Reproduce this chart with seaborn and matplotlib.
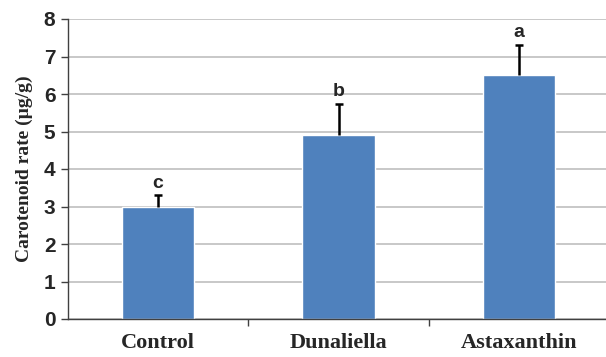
import matplotlib
matplotlib.use("Agg")
import matplotlib.pyplot as plt
import seaborn as sns
import pandas as pd

# data
groups = ["Control", "Dunaliella", "Astaxanthin"]
carotenoid = [3.0, 4.92, 6.5]
err_up = [0.3, 0.82, 0.82]
letters = ["c", "b", "a"]

df = pd.DataFrame({"group": groups, "value": carotenoid})

sns.set_style("white")
fig = plt.figure(figsize=(6.06, 3.57), dpi=100)
ax = fig.add_axes([68 / 606, 38 / 357, 1 - 68 / 606, 300 / 357])

sns.barplot(data=df, x="group", y="value", color="#4F81BD", saturation=1,
            width=0.4, errorbar=None, ax=ax, zorder=2)
eb = ax.errorbar(range(len(groups)), carotenoid, yerr=[[0] * 3, err_up], fmt="none",
                 ecolor="black", elinewidth=1.8, capsize=3, capthick=1.8, zorder=3)
# only the upper half of the error bar is shown
eb[1][0].set_visible(False)

for i, (v, e, t) in enumerate(zip(carotenoid, err_up, letters)):
    ax.text(i, v + e + 0.1, t, ha="center", va="bottom", fontsize=14,
            fontweight="bold", family="Liberation Sans")

ax.set_ylim(0, 8)
ax.set_xlim(-0.5, 2.5 - 3 / 180)
ax.set_yticks(range(0, 9))
ax.yaxis.grid(True, color="#BFBFBF", linewidth=1.2, zorder=0)
ax.set_axisbelow(True)
sns.despine(ax=ax)
for s in ["left", "bottom"]:
    ax.spines[s].set_color("#404040")
    ax.spines[s].set_linewidth(1.0)

ax.tick_params(axis="y", direction="out", length=5, width=1, color="#404040",
               left=True, pad=4)
for lab in ax.get_yticklabels():
    lab.set_fontsize(15)
    lab.set_fontweight("bold")
    lab.set_family("Liberation Sans")

# category boundaries as minor ticks, like the spreadsheet style axis
ax.set_xticks([0.5, 1.5], minor=True)
ax.tick_params(axis="x", which="minor", direction="out", length=5, width=1,
               color="#404040", bottom=True)
ax.tick_params(axis="x", which="major", length=0, pad=10)
for lab in ax.get_xticklabels():
    lab.set_fontsize(16)
    lab.set_fontweight("bold")
    lab.set_family("Liberation Serif")

ax.set_xlabel("")
ax.set_ylabel("Carotenoid rate (µg/g)", fontsize=14, fontweight="bold",
              family="Liberation Serif", labelpad=8)

fig.savefig("out.png", dpi=100)
